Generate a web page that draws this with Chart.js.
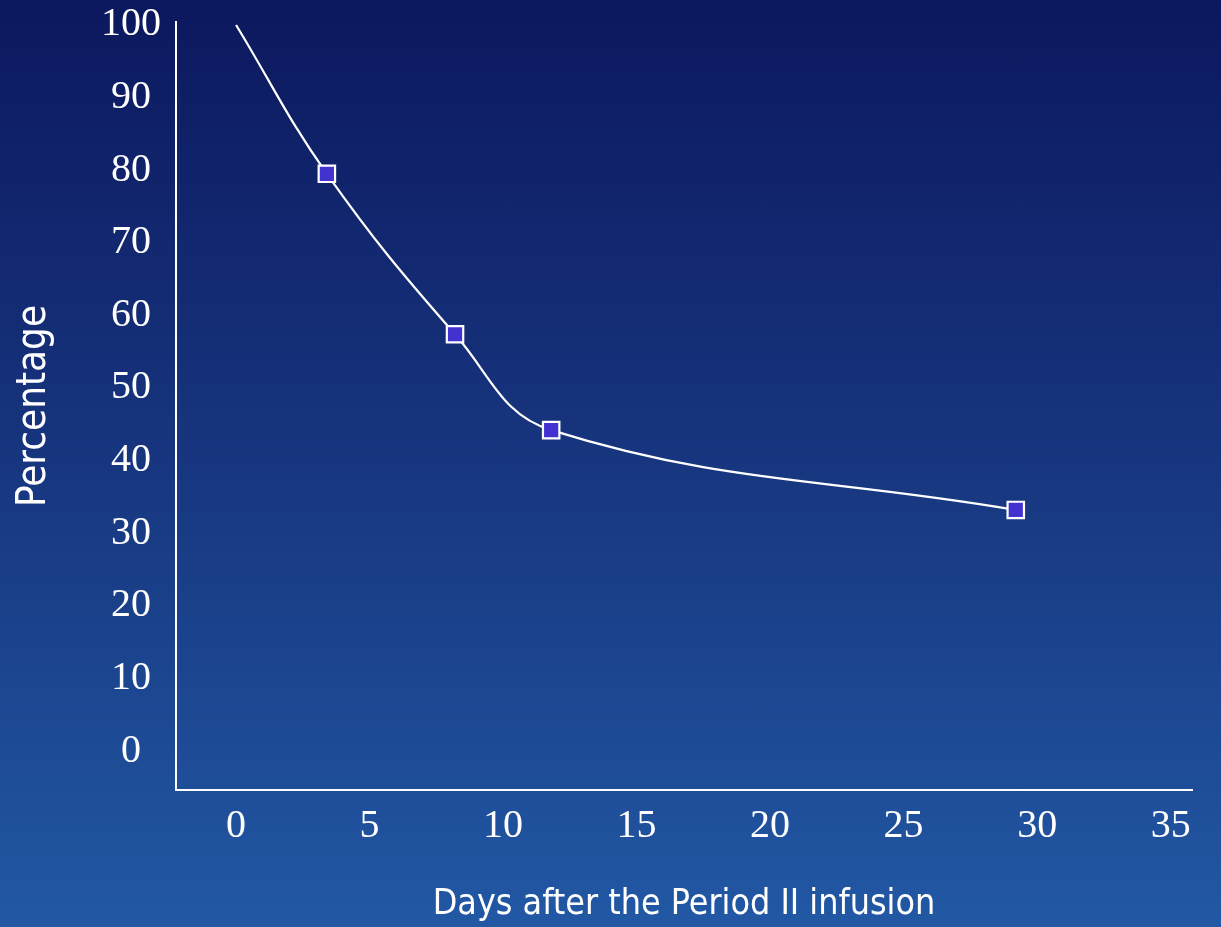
<!DOCTYPE html>
<html lang="en">
<head>
    <meta charset="UTF-8">
    <title>Days after the Period II infusion</title>
    <script src="https://cdn.jsdelivr.net/npm/chart.js"></script>
    <style>
        html, body {
            margin: 0;
            padding: 0;
            overflow: hidden;
        }
        body {
            width: 1221px;
            height: 927px;
            background: linear-gradient(to bottom, #0c185e 0%, #17367f 50%, #2258a4 100%);
        }
        .chart-box {
            position: relative;
            width: 1221px;
            height: 927px;
        }
    </style>
</head>
<body>
<div class="chart-box">
    <canvas id="decay-chart"></canvas>
</div>
<script>
    // values
    const days = [0, 3.4, 8.2, 11.8, 29.2];
    const percentage = [100, 79.5, 57.4, 44.2, 33.2];
    const xTicks = [0, 5, 10, 15, 20, 25, 30, 35];
    const yTicks = [0, 10, 20, 30, 40, 50, 60, 70, 80, 90, 100];

    const serif = '"Liberation Serif", "Times New Roman", serif';
    const titleFont = '"DejaVu Sans Condensed", "DejaVu Sans", Tahoma, sans-serif';

    const points = days.map((d, i) => ({ x: d, y: percentage[i] }));

    new Chart(document.getElementById('decay-chart'), {
        type: 'line',
        data: {
            datasets: [{
                data: points,
                borderColor: '#ffffff',
                borderWidth: 2.2,
                tension: 0.4,
                pointStyle: 'rect',
                // no marker on the starting point
                pointRadius: ctx => ctx.dataIndex === 0 ? 0 : 11.6,
                pointHoverRadius: ctx => ctx.dataIndex === 0 ? 0 : 11.6,
                pointBackgroundColor: '#4232d0',
                pointBorderColor: '#ffffff',
                pointBorderWidth: 2.2
            }]
        },
        options: {
            responsive: true,
            maintainAspectRatio: false,
            animation: false,
            layout: {
                autoPadding: false,
                padding: { top: 22, right: 29, left: 0, bottom: 0 }
            },
            plugins: {
                legend: { display: false },
                tooltip: { enabled: false }
            },
            scales: {
                x: {
                    type: 'linear',
                    min: -2.25,
                    max: 35.8,
                    afterBuildTicks: scale => {
                        scale.ticks = xTicks.map(v => ({ value: v }));
                    },
                    afterFit: scale => {
                        scale.height = 137;
                    },
                    grid: { display: false },
                    border: { display: true, color: '#ffffff', width: 2 },
                    ticks: {
                        color: '#ffffff',
                        font: { family: serif, size: 40 },
                        padding: 4,
                        maxRotation: 0,
                        autoSkip: false
                    },
                    title: {
                        display: true,
                        text: 'Days after the Period II infusion',
                        color: '#ffffff',
                        font: { family: titleFont, size: 35.5 },
                        padding: { top: 0, bottom: 1 }
                    }
                },
                y: {
                    min: -5.37,
                    max: 100.41,
                    afterBuildTicks: scale => {
                        scale.ticks = yTicks.map(v => ({ value: v }));
                    },
                    afterFit: scale => {
                        scale.width = 176;
                        scale.paddingTop = 0;
                        scale.paddingBottom = 0;
                    },
                    grid: { display: false },
                    border: { display: true, color: '#ffffff', width: 2 },
                    ticks: {
                        color: '#ffffff',
                        font: { family: serif, size: 40, lineHeight: 0.5 },
                        padding: 7,
                        crossAlign: 'center',
                        autoSkip: false
                    },
                    title: {
                        display: true,
                        text: 'Percentage',
                        color: '#ffffff',
                        font: { family: titleFont, size: 40 },
                        padding: { top: 11, bottom: 0 }
                    }
                }
            }
        }
    });
</script>
</body>
</html>
